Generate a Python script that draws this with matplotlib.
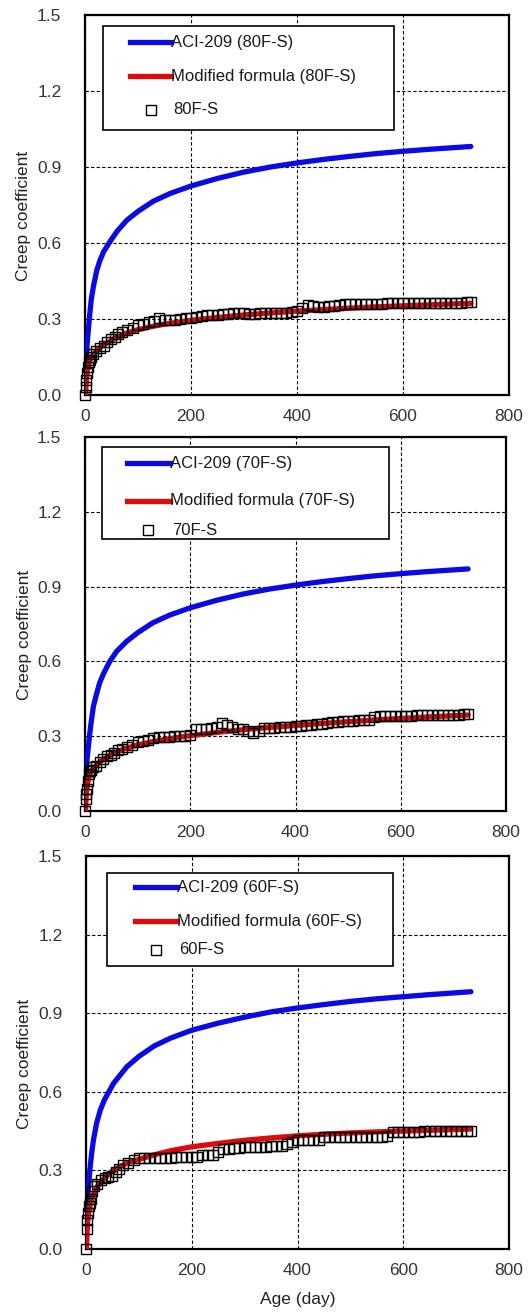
import numpy as np
import matplotlib
matplotlib.use("Agg")
import matplotlib.pyplot as plt
from matplotlib.lines import Line2D
from matplotlib.patches import Rectangle

plt.rcParams['font.family'] = ['Liberation Sans', 'DejaVu Sans']

# measured ages (day) shared by the three specimens
ages = [0, 1, 2, 3, 5, 7, 9, 12, 16, 21, 28, 35, 42, 49, 56, 63, 70,
        80, 90, 100, 110, 120, 130, 140, 150, 160, 170, 180, 190, 200,
        210, 220, 230, 240, 250, 260, 270, 280, 290, 300, 310, 320, 330,
        340, 350, 360, 370, 380, 390, 400, 410, 420, 430, 440, 450, 460,
        470, 480, 490, 500, 510, 520, 530, 540, 550, 560, 570, 580, 590,
        600, 610, 620, 630, 640, 650, 660, 670, 680, 690, 700, 710, 720, 728]

meas_80 = [0.0, 0.03, 0.06, 0.085, 0.11, 0.13, 0.14, 0.15, 0.16, 0.175, 0.185,
           0.195, 0.21, 0.22, 0.23, 0.24, 0.248,
           0.258, 0.266, 0.275, 0.282, 0.288, 0.293, 0.302, 0.298, 0.296, 0.298,
           0.30, 0.302, 0.304,
           0.308, 0.312, 0.315, 0.316, 0.317, 0.318, 0.32, 0.322, 0.324, 0.322,
           0.318, 0.318, 0.322,
           0.323, 0.323, 0.324, 0.324, 0.325, 0.326, 0.33, 0.345, 0.356, 0.352,
           0.347, 0.348, 0.35,
           0.352, 0.356, 0.358, 0.36, 0.36, 0.36, 0.361, 0.361, 0.361, 0.361,
           0.362, 0.362, 0.362,
           0.362, 0.362, 0.363, 0.363, 0.363, 0.363, 0.364, 0.364, 0.364, 0.364,
           0.365, 0.365, 0.366, 0.368]

meas_70 = [0.0, 0.05, 0.07, 0.09, 0.12, 0.15, 0.16, 0.165, 0.175, 0.18, 0.195,
           0.21, 0.222, 0.226, 0.232, 0.245, 0.25,
           0.255, 0.266, 0.278, 0.282, 0.284, 0.292, 0.295, 0.295, 0.296, 0.30,
           0.302, 0.302, 0.304,
           0.33, 0.33, 0.33, 0.334, 0.338, 0.352, 0.345, 0.335, 0.33, 0.33,
           0.322, 0.312, 0.322,
           0.332, 0.333, 0.334, 0.335, 0.336, 0.338, 0.34, 0.342, 0.343, 0.345,
           0.347, 0.35, 0.352,
           0.355, 0.357, 0.359, 0.36, 0.362, 0.363, 0.364, 0.365, 0.378, 0.38,
           0.38, 0.38, 0.38,
           0.381, 0.382, 0.383, 0.384, 0.385, 0.385, 0.385, 0.385, 0.386, 0.386,
           0.386, 0.387, 0.388, 0.39]

meas_60 = [0.0, 0.075, 0.11, 0.138, 0.163, 0.176, 0.19, 0.22, 0.24, 0.25, 0.262,
           0.27, 0.275, 0.28, 0.293, 0.305, 0.32,
           0.33, 0.34, 0.347, 0.347, 0.347, 0.348, 0.348, 0.349, 0.349, 0.35,
           0.35, 0.35, 0.351,
           0.353, 0.358, 0.36, 0.357, 0.37, 0.38, 0.383, 0.385, 0.387, 0.39,
           0.39, 0.39, 0.391,
           0.391, 0.392, 0.393, 0.395, 0.40, 0.41, 0.416, 0.416, 0.416, 0.417,
           0.417, 0.426, 0.426,
           0.426, 0.426, 0.426, 0.426, 0.426, 0.426, 0.426, 0.427, 0.427, 0.428,
           0.43, 0.445, 0.448,
           0.448, 0.448, 0.448, 0.448, 0.45, 0.45, 0.45, 0.45, 0.45, 0.45,
           0.45, 0.45, 0.45, 0.45]

# ACI-209 prediction curves
aci_t_80 = [2, 4, 6, 9, 12, 16, 22, 28, 35, 47, 60, 79, 100, 129, 160, 200,
            250, 300, 350, 400, 450, 500, 550, 600, 650, 700, 728]
aci_80 = [0.14, 0.2, 0.25, 0.32, 0.38, 0.43, 0.49, 0.53, 0.565, 0.605, 0.645,
          0.69, 0.725, 0.765, 0.795, 0.825, 0.855, 0.88, 0.9, 0.916, 0.93,
          0.942, 0.953, 0.962, 0.97, 0.977, 0.981]
aci_t_70 = [2, 4, 6, 9, 12, 16, 22, 28, 35, 47, 60, 79, 100, 129, 160, 200,
            250, 300, 350, 400, 450, 500, 550, 600, 650, 700, 728]
aci_70 = [0.15, 0.21, 0.25, 0.31, 0.36, 0.42, 0.47, 0.515, 0.55, 0.6, 0.64,
          0.68, 0.715, 0.755, 0.785, 0.815, 0.845, 0.87, 0.89, 0.906, 0.92,
          0.932, 0.943, 0.952, 0.96, 0.967, 0.971]
aci_t_60 = [2, 4, 6, 8, 11, 14, 20, 27, 35, 52, 77, 100, 129, 160, 200, 250,
            300, 350, 400, 450, 500, 550, 600, 650, 700, 728]
aci_60 = [0.17, 0.22, 0.27, 0.315, 0.37, 0.415, 0.48, 0.53, 0.57, 0.632, 0.695,
          0.735, 0.775, 0.805, 0.835, 0.862, 0.885, 0.905, 0.92, 0.933, 0.945,
          0.955, 0.963, 0.971, 0.978, 0.982]

# modified formula curves
mod_t = [1, 2, 3, 5, 8, 12, 20, 30, 45, 60, 80, 100, 130, 160, 200, 250, 300,
         350, 400, 450, 500, 550, 600, 650, 700, 728]
mod_80 = [0.0, 0.04, 0.07, 0.1, 0.13, 0.15, 0.17, 0.19, 0.21, 0.228, 0.245,
          0.258, 0.272, 0.283, 0.295, 0.306, 0.316, 0.324, 0.331, 0.337, 0.343,
          0.348, 0.352, 0.356, 0.36, 0.362]
mod_70 = [0.0, 0.05, 0.08, 0.11, 0.14, 0.16, 0.18, 0.2, 0.22, 0.237, 0.253,
          0.265, 0.279, 0.29, 0.302, 0.315, 0.326, 0.335, 0.343, 0.351, 0.358,
          0.365, 0.371, 0.377, 0.382, 0.385]
mod_60 = [0.0, 0.06, 0.1, 0.14, 0.17, 0.2, 0.235, 0.26, 0.29, 0.31, 0.33,
          0.342, 0.36, 0.375, 0.39, 0.403, 0.415, 0.424, 0.432, 0.438, 0.443,
          0.447, 0.45, 0.453, 0.456, 0.458]

xticks = [0, 200, 400, 600, 800]
yticks = [0.0, 0.3, 0.6, 0.9, 1.2, 1.5]

panels = [
    ("80F-S", aci_t_80, aci_80, mod_80, meas_80),
    ("70F-S", aci_t_70, aci_70, mod_70, meas_70),
    ("60F-S", aci_t_60, aci_60, mod_60, meas_60),
]

W, H = 529, 1312
# axes boxes in pixels: left, top, right, bottom
boxes = [(85, 15, 509, 395), (85, 437, 506, 811), (86, 856, 509, 1249)]
# legend box (axes fraction): x0, x1, y0, y1, handle x0, x1, rows
legs = [
    (0.042, 0.729, 0.697, 0.971, 0.107, 0.203, [0.928, 0.839, 0.75]),
    (0.040, 0.722, 0.727, 0.973, 0.099, 0.202, [0.93, 0.829, 0.751]),
    (0.050, 0.726, 0.719, 0.958, 0.116, 0.216, [0.92, 0.834, 0.762]),
]

fig = plt.figure(figsize=(W / 100, H / 100), dpi=100)
tick_col = '#33333f'
blue = '#0a0ae6'
red = '#e00a0a'

for i, (name, at, av, mv, dv) in enumerate(panels):
    l, t, r, b = boxes[i]
    ax = fig.add_axes([l / W, 1 - b / H, (r - l) / W, (b - t) / H])
    ax.set_xlim(0, 800)
    ax.set_ylim(0, 1.5)
    ax.set_xticks(xticks)
    ax.set_yticks(yticks)
    ax.set_yticklabels(["%.1f" % v for v in yticks])
    ax.tick_params(length=0, labelsize=12.5, colors=tick_col)
    ax.tick_params(axis='y', pad=17)
    ax.tick_params(axis='x', pad=10)
    ax.grid(True, color='black', linestyle=(0, (3, 2)), linewidth=0.8)
    for s in ax.spines.values():
        s.set_linewidth(1.6)
        s.set_color('black')

    ax.plot(at, av, color=blue, lw=3.8, solid_capstyle='round', zorder=3)
    ax.plot(mod_t, mv, color=red, lw=3.8, solid_capstyle='round', zorder=3)
    ax.plot(ages, dv, linestyle='none', marker='s', markersize=7,
            markerfacecolor='none', markeredgecolor='black',
            markeredgewidth=1.0, zorder=4, clip_on=False)

    ax.set_ylabel("Creep coefficient", fontsize=12.5, color='#222222')
    ax.yaxis.set_label_coords(-0.127, 0.47)

    # legend
    x0, x1, y0, y1, hx0, hx1, rows = legs[i]
    ax.add_patch(Rectangle((x0, y0), x1 - x0, y1 - y0, transform=ax.transAxes,
                           facecolor='white', edgecolor='black', lw=1.2,
                           zorder=6))
    ax.add_line(Line2D([hx0, hx1], [rows[0], rows[0]], transform=ax.transAxes,
                       color=blue, lw=3.8, zorder=7))
    ax.add_line(Line2D([hx0, hx1], [rows[1], rows[1]], transform=ax.transAxes,
                       color=red, lw=3.8, zorder=7))
    ax.add_line(Line2D([(hx0 + hx1) / 2], [rows[2]], transform=ax.transAxes,
                       linestyle='none', marker='s', markersize=6.5,
                       markerfacecolor='none', markeredgecolor='black',
                       markeredgewidth=1.0, zorder=7))
    labels = ["ACI-209 (%s)" % name, "Modified formula (%s)" % name, name]
    for k, lab in enumerate(labels):
        xt = hx1 if k < 2 else hx1 + 0.005
        ax.text(xt, rows[k], lab, transform=ax.transAxes, fontsize=12,
                color='#1a1a1a', va='center', ha='left', zorder=8)

    if i == 2:
        ax.set_xlabel("Age (day)", fontsize=12.5, color='#222222', labelpad=10)

fig.savefig("out.png", dpi=100)
